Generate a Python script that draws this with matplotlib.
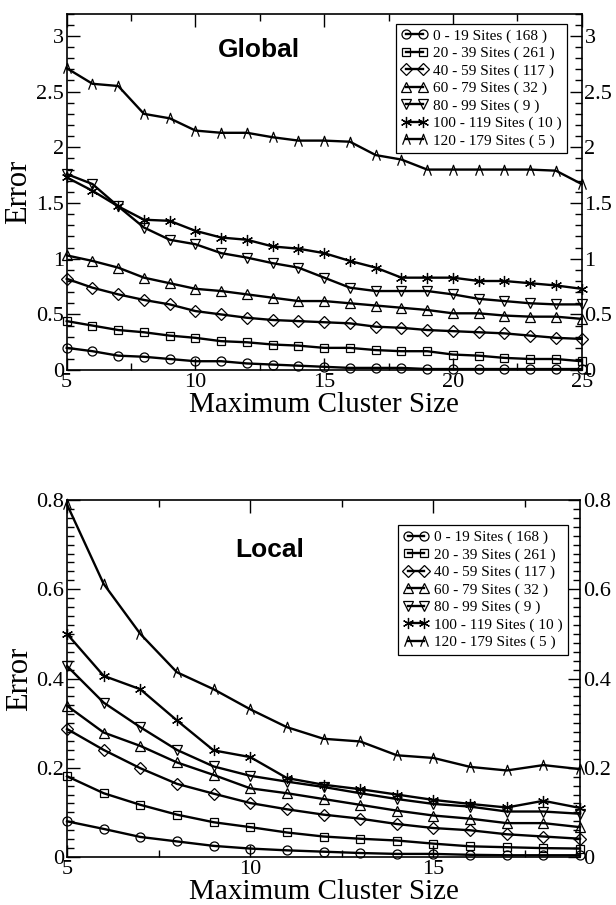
import matplotlib
matplotlib.use("Agg")
import matplotlib.pyplot as plt
from matplotlib.path import Path
from matplotlib.ticker import MultipleLocator

# ---- data -------------------------------------------------------------
labels = ["0 - 19 Sites ( 168 )", "20 - 39 Sites ( 261 )", "40 - 59 Sites ( 117 )",
          "60 - 79 Sites ( 32 )", "80 - 99 Sites ( 9 )", "100 - 119 Sites ( 10 )",
          "120 - 179 Sites ( 5 )"]

global_x = list(range(5, 26))
global_0_19 = [0.20, 0.17, 0.13, 0.12, 0.10, 0.08, 0.08, 0.06, 0.05, 0.04, 0.03,
               0.02, 0.02, 0.02, 0.01, 0.01, 0.01, 0.01, 0.01, 0.01, 0.01]
global_20_39 = [0.44, 0.40, 0.36, 0.34, 0.31, 0.29, 0.26, 0.25, 0.23, 0.22, 0.20,
                0.20, 0.18, 0.17, 0.17, 0.14, 0.13, 0.11, 0.10, 0.10, 0.08]
global_40_59 = [0.82, 0.74, 0.68, 0.63, 0.59, 0.53, 0.50, 0.47, 0.45, 0.44, 0.43,
                0.42, 0.39, 0.38, 0.36, 0.35, 0.34, 0.33, 0.31, 0.29, 0.28]
global_60_79 = [1.03, 0.98, 0.92, 0.83, 0.78, 0.73, 0.71, 0.68, 0.65, 0.62, 0.62,
                0.60, 0.58, 0.56, 0.54, 0.51, 0.51, 0.49, 0.48, 0.48, 0.46]
global_80_99 = [1.76, 1.67, 1.47, 1.28, 1.17, 1.13, 1.05, 1.01, 0.96, 0.92, 0.83,
                0.74, 0.71, 0.71, 0.71, 0.68, 0.64, 0.62, 0.60, 0.59, 0.59]
global_100_119 = [1.73, 1.61, 1.47, 1.35, 1.34, 1.25, 1.19, 1.17, 1.11, 1.09, 1.05,
                  0.98, 0.92, 0.83, 0.83, 0.83, 0.80, 0.80, 0.78, 0.76, 0.73]
global_120_179 = [2.71, 2.57, 2.55, 2.30, 2.26, 2.15, 2.13, 2.13, 2.09, 2.06, 2.06,
                  2.05, 1.93, 1.89, 1.80, 1.80, 1.80, 1.80, 1.80, 1.79, 1.67]

local_x = list(range(5, 20))
local_0_19 = [0.080, 0.063, 0.045, 0.035, 0.025, 0.019, 0.015, 0.012, 0.009,
              0.007, 0.007, 0.005, 0.004, 0.004, 0.004]
local_20_39 = [0.181, 0.143, 0.117, 0.095, 0.078, 0.067, 0.055, 0.046, 0.041,
               0.037, 0.030, 0.024, 0.022, 0.020, 0.019]
local_40_59 = [0.287, 0.240, 0.199, 0.164, 0.142, 0.121, 0.107, 0.095, 0.086,
               0.074, 0.065, 0.060, 0.051, 0.046, 0.041]
local_60_79 = [0.339, 0.279, 0.249, 0.212, 0.184, 0.154, 0.143, 0.130, 0.117,
               0.104, 0.093, 0.086, 0.076, 0.076, 0.067]
local_80_99 = [0.428, 0.346, 0.291, 0.240, 0.203, 0.182, 0.169, 0.157, 0.143,
               0.130, 0.119, 0.113, 0.102, 0.102, 0.097]
local_100_119 = [0.500, 0.406, 0.376, 0.306, 0.239, 0.224, 0.177, 0.162, 0.152,
                 0.140, 0.128, 0.119, 0.111, 0.126, 0.110]
local_120_179 = [0.790, 0.612, 0.500, 0.414, 0.376, 0.331, 0.291, 0.265, 0.259,
                 0.228, 0.222, 0.202, 0.194, 0.206, 0.197]

global_series = [global_0_19, global_20_39, global_40_59, global_60_79,
                 global_80_99, global_100_119, global_120_179]
local_series = [local_0_19, local_20_39, local_40_59, local_60_79,
                local_80_99, local_100_119, local_120_179]

# ---- styling ----------------------------------------------------------
serif = ["Liberation Serif", "DejaVu Serif"]
caret = Path([(-0.75, -1.0), (0.0, 1.0), (0.75, -1.0)],
             [Path.MOVETO, Path.LINETO, Path.LINETO])
markers = ["o", "s", "D", "^", "v", (6, 2, 0), caret]
msizes = [6.5, 6.0, 6.0, 7.0, 7.0, 8.0, 7.5]

plt.rcParams["font.family"] = serif
plt.rcParams["mathtext.fontset"] = "stix"

fig = plt.figure(figsize=(6.16, 9.05), dpi=100)
ax_g = fig.add_axes([0.1083, 0.591, 0.836, 0.394])
ax_l = fig.add_axes([0.1088, 0.053, 0.8328, 0.3945])


def draw(ax, x, series, xlim, ylim, xmaj, xmin, ymaj, ymin, yfmt, title, tpos, lpos):
    for vals, mk, ms, lab in zip(series, markers, msizes, labels):
        ax.plot(x, vals, color="black", lw=1.7, marker=mk, ms=ms,
                mfc="none", mec="black", mew=0.9, label=lab, clip_on=False)
    ax.set_xlim(*xlim)
    ax.set_ylim(*ylim)
    ax.xaxis.set_major_locator(MultipleLocator(xmaj))
    ax.xaxis.set_minor_locator(MultipleLocator(xmin))
    ax.yaxis.set_major_locator(MultipleLocator(ymaj))
    ax.yaxis.set_minor_locator(MultipleLocator(ymin))
    ax.yaxis.set_major_formatter(plt.FuncFormatter(yfmt))
    ax.tick_params(which="both", direction="in", top=True, right=True,
                   labelright=True, labelsize=16, pad=2, width=1.0)
    ax.tick_params(which="major", length=9)
    ax.tick_params(which="minor", length=5)
    for s in ax.spines.values():
        s.set_linewidth(1.2)
    ax.set_xlabel("Maximum Cluster Size", fontsize=21, labelpad=0)
    ax.set_ylabel("Error", fontsize=22, labelpad=2)
    ax.text(tpos[0], tpos[1], title, transform=ax.transAxes, ha="center",
            va="center", fontsize=19, fontweight="bold",
            family=["Liberation Sans", "DejaVu Sans"])
    leg = ax.legend(loc="upper right", bbox_to_anchor=lpos, borderaxespad=0,
                    numpoints=2, handlelength=1.7, handletextpad=0.35,
                    labelspacing=0.24, borderpad=0.35, fontsize=11,
                    fancybox=False, framealpha=1, edgecolor="black")
    leg.get_frame().set_linewidth(0.9)


def fmt_g(v, pos):
    return "%g" % round(v, 3)


draw(ax_g, global_x, global_series, (5, 25), (0, 3.2), 5, 2.5, 0.5, 0.1,
     fmt_g, "Global", (0.373, 0.898), (0.971, 0.972))
draw(ax_l, local_x, local_series, (5, 19), (0, 0.8), 5, 2.5, 0.2, 0.02,
     fmt_g, "Local", (0.396, 0.86), (0.977, 0.93))

fig.savefig("out.png", dpi=100)
